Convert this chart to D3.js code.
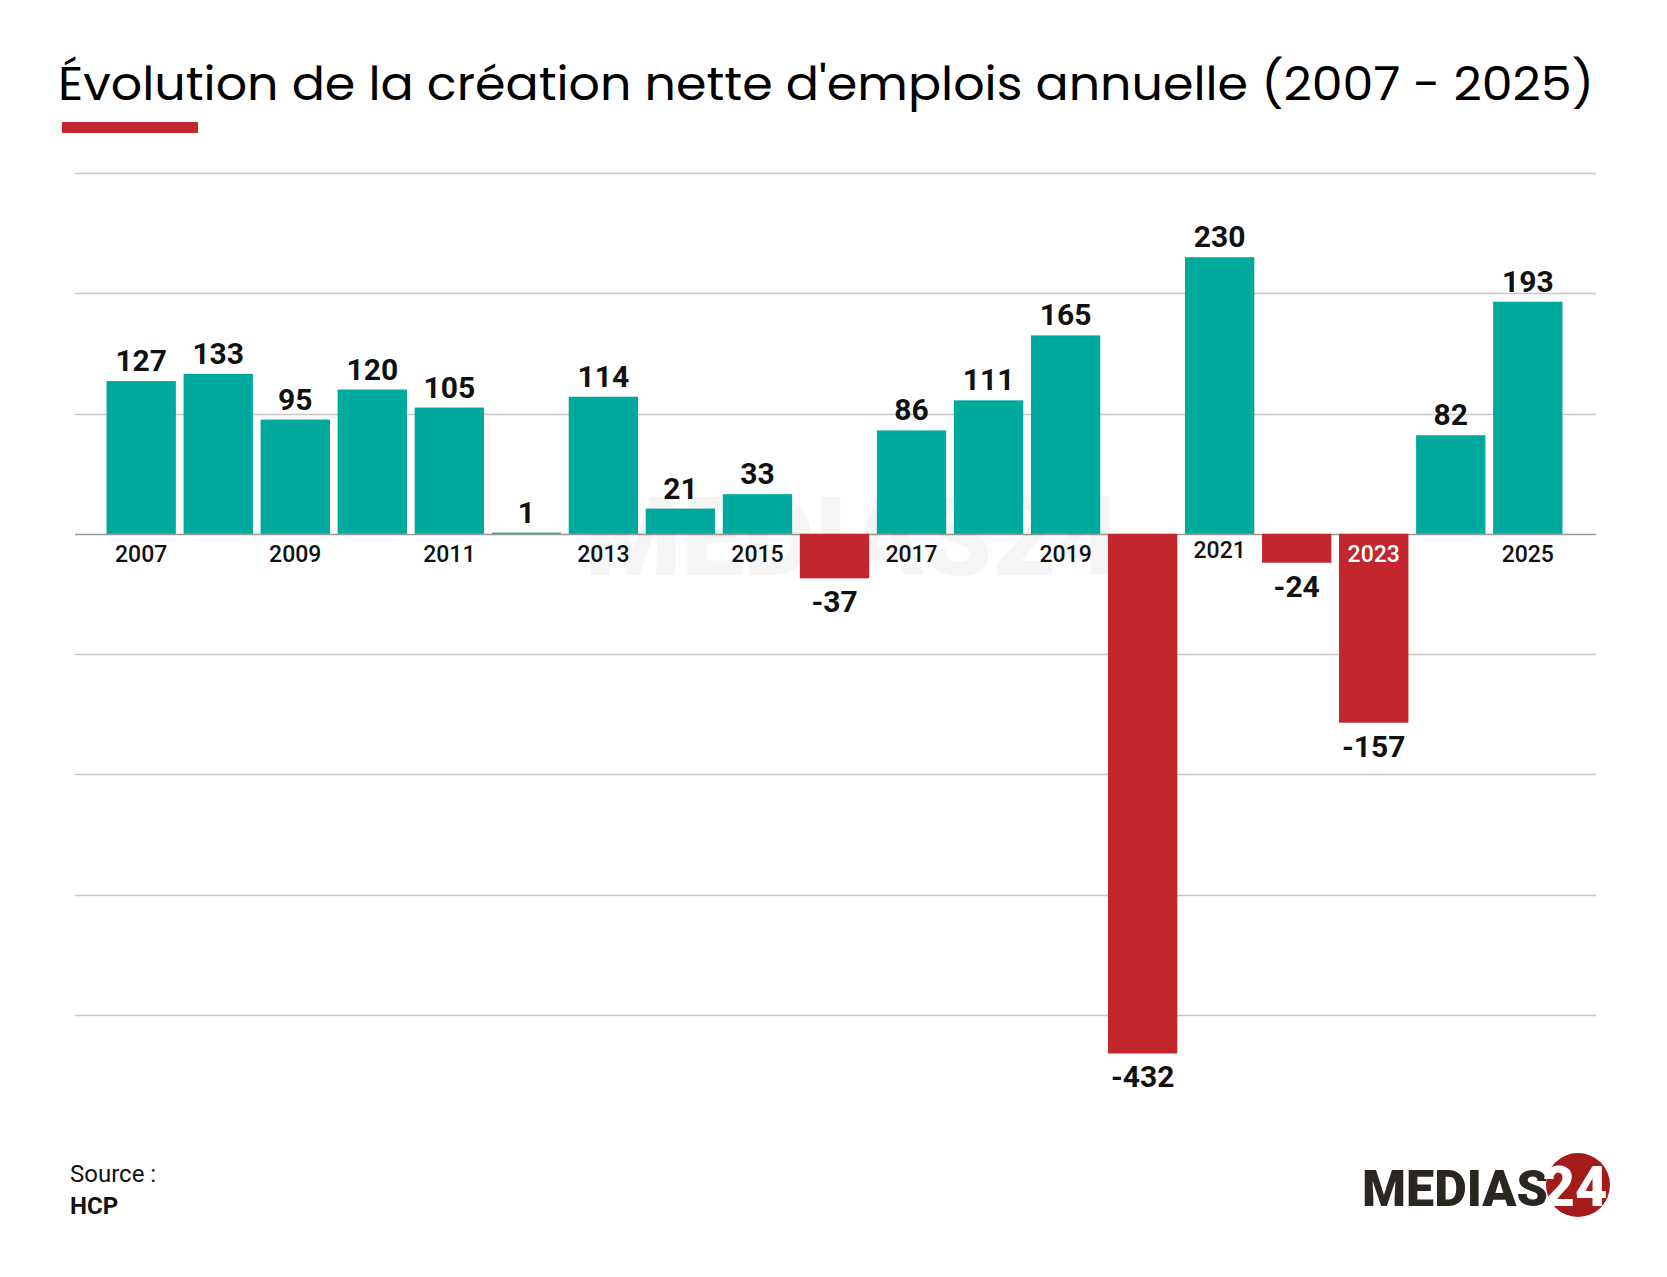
<!DOCTYPE html>
<html><head><meta charset="utf-8">
<script src="https://cdn.jsdelivr.net/npm/d3@7"></script>
<style>body{margin:0;background:#fff}</style>
</head><body><svg></svg>
<script>
const years = ['2007','2008','2009','2010','2011','2012','2013','2014','2015','2016','2017','2018','2019','2020','2021','2022','2023','2024','2025'];
const values = [127,133,95,120,105,1,114,21,33,-37,86,111,165,-432,230,-24,-157,82,193];
const gridTicks = [-400,-300,-200,-100,0,100,200,300];
const shownYears = ['2007','2009','2011','2013','2015','2017','2019','2021','2023','2025'];

const size = {w: 1667, h: 1277};
const svg = d3.select('svg').attr('width', size.w).attr('height', size.h);
const teal = '#00a99d', red = '#c1272d';

svg.append('text').attr('x', 58).attr('y', 100)
    .attr('font-family', 'Poppins, "Noto Sans", sans-serif').attr('font-size', 46)
    .attr('textLength', 1536).attr('lengthAdjust', 'spacingAndGlyphs')
    .text("Évolution de la création nette d'emplois annuelle (2007 - 2025)");
svg.append('rect').attr('x', 62).attr('y', 122).attr('width', 136).attr('height', 11).attr('fill', red);

const x = d3.scaleBand().domain(years).range([105, 1564]).paddingInner(0.1).paddingOuter(0.02);
const y = d3.scaleLinear().domain([-400, 300]).range([1015, 173]);

svg.append('g').selectAll('line').data(gridTicks).join('line')
    .attr('x1', 75).attr('x2', 1596)
    .attr('y1', d => Math.round(y(d)) + 0.5).attr('y2', d => Math.round(y(d)) + 0.5)
    .attr('stroke', d => d === 0 ? '#999' : '#c8c8c8').attr('stroke-width', 1.3);

// watermark
svg.append('text').attr('x', 585).attr('y', 575)
    .attr('font-family', 'Roboto, sans-serif').attr('font-weight', 900).attr('font-size', 110)
    .attr('fill', '#000').attr('opacity', 0.035).text('MEDIAS24');

svg.append('g').selectAll('rect').data(values).join('rect')
    .attr('x', (d, i) => x(years[i])).attr('width', x.bandwidth())
    .attr('y', d => y(Math.max(0, d))).attr('height', d => Math.abs(y(d) - y(0)))
    .attr('fill', d => d < 0 ? red : teal);

svg.append('g').selectAll('text').data(values).join('text')
    .attr('x', (d, i) => x(years[i]) + x.bandwidth() / 2)
    .attr('y', d => d >= 0 ? y(d) - 10 : y(d) + 34)
    .attr('text-anchor', 'middle').attr('font-family', 'Roboto, sans-serif')
    .attr('font-weight', 700).attr('font-size', 30).attr('fill', '#111')
    .text(d => d);

svg.append('g').selectAll('text').data(shownYears).join('text')
    .attr('x', d => x(d) + x.bandwidth() / 2)
    .attr('y', d => d === '2021' ? y(0) + 24 : y(0) + 28)
    .attr('text-anchor', 'middle').attr('font-family', 'Roboto, sans-serif')
    .attr('font-weight', 500).attr('font-size', 23)
    .attr('fill', d => d === '2023' ? '#fff' : '#111')
    .text(d => d);

svg.append('text').attr('x', 70).attr('y', 1182).attr('font-family', 'Roboto, sans-serif')
    .attr('font-size', 24).attr('fill', '#111').text('Source :');
svg.append('text').attr('x', 70).attr('y', 1214).attr('font-family', 'Roboto, sans-serif')
    .attr('font-size', 24).attr('font-weight', 700).attr('fill', '#111').text('HCP');

// logo
svg.append('circle').attr('cx', 1578).attr('cy', 1185).attr('r', 32).attr('fill', '#a31b1b');
svg.append('text').attr('x', 1548).attr('y', 1206).attr('font-family', 'Roboto, sans-serif')
    .attr('font-weight', 900).attr('font-size', 50).attr('fill', '#2a2723')
    .attr('text-anchor', 'end').attr('textLength', 186).attr('lengthAdjust', 'spacingAndGlyphs').text('MEDIAS');
svg.append('text').attr('x', 1575).attr('y', 1206).attr('font-family', 'Roboto, sans-serif')
    .attr('font-weight', 900).attr('font-size', 56).attr('fill', '#fff')
    .attr('text-anchor', 'middle').text('24');
</script></body></html>
